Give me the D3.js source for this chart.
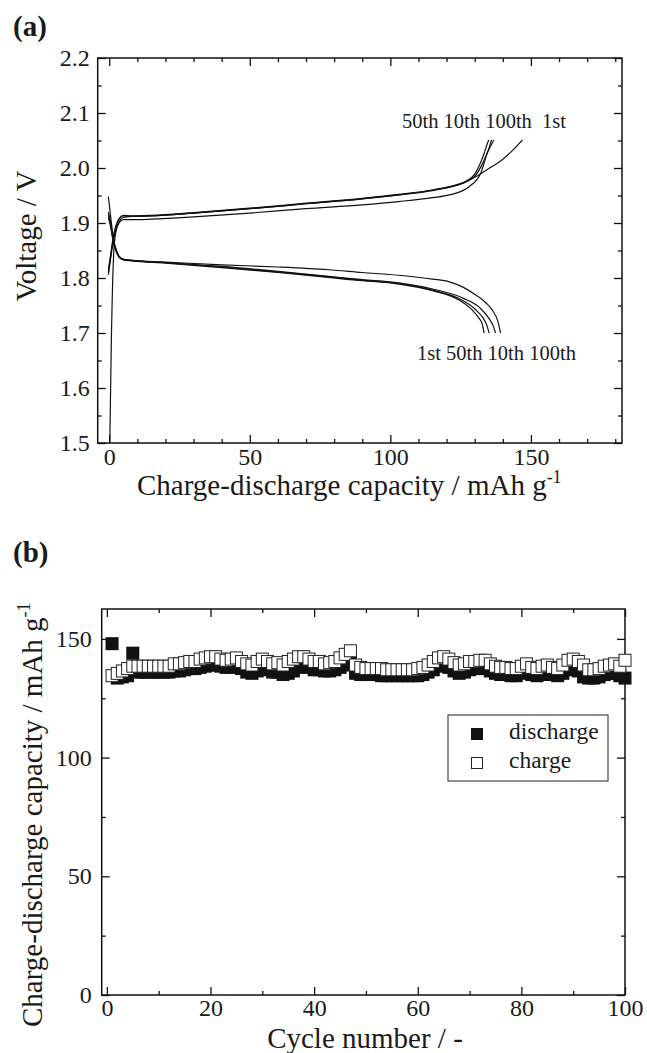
<!DOCTYPE html>
<html lang="en">
<head>
<meta charset="utf-8">
<title>Charge-discharge curves and cycling</title>
<script src="https://cdn.jsdelivr.net/npm/d3@7"></script>
<style>
  body { margin: 0; background: #fff; }
  svg text { font-family: "Liberation Serif", "Times New Roman", serif; fill: #1a1a1a; }
  .tick text { font-size: 24px; }
  .tick line { stroke: #111; stroke-width: 1.3px; }
  .ttl { font-size: 29px; }
  .lbl { font-size: 20.5px; white-space: pre; }
</style>
</head>
<body>
<script>
// ---- panel (a): [capacity / mAh g-1, voltage / V]
var charge1st = [[0.2,1.5],[0.5,1.6],[0.8,1.7],[1.1,1.77],[1.6,1.845],[2.3,1.882],[3.5,1.902],[5,1.91],[8,1.912],[15,1.913],[30,1.918],[50,1.926],[70,1.935],[90,1.944],[103,1.951],[115,1.96],[122,1.967],[127,1.976],[131,1.986],[135,1.999],[139.8,2.015],[143.5,2.032],[147,2.051]];
var charge10th = [[-0.3,1.815],[0.5,1.842],[1.5,1.876],[2.5,1.897],[3.5,1.908],[5,1.914],[8,1.913],[15,1.914],[30,1.919],[50,1.927],[70,1.936],[90,1.945],[103,1.952],[115,1.96],[121,1.966],[127,1.975],[130.4,1.987],[132.2,2.002],[134,2.022],[135.2,2.038],[136,2.051]];
var charge50th = [[-0.3,1.81],[0.5,1.84],[1.5,1.874],[2.5,1.895],[3.5,1.907],[5,1.913],[8,1.912],[15,1.913],[30,1.918],[50,1.926],[70,1.935],[90,1.944],[103,1.951],[115,1.959],[121,1.965],[127,1.976],[130,1.989],[131.6,2.004],[133.2,2.024],[134.2,2.04],[135,2.051]];
var charge100th = [[-0.3,1.806],[0.5,1.835],[1.5,1.868],[2.5,1.889],[3.5,1.9],[5,1.906],[8,1.906],[15,1.907],[30,1.911],[50,1.918],[70,1.926],[90,1.933],[103,1.939],[115,1.946],[121,1.951],[128,1.966],[132.1,1.99],[134.5,2.027],[136.8,2.051]];

var discharge1st = [[-0.3,1.948],[0.5,1.912],[1.5,1.872],[2.5,1.851],[3.5,1.84],[5,1.834],[8,1.832],[20,1.828],[40,1.82],[60,1.811],[78,1.802],[90,1.796],[103,1.789],[115,1.777],[124.4,1.76],[129.1,1.742],[131.5,1.727],[132.7,1.716],[133.3,1.7]];
var discharge10th = [[-0.3,1.92],[0.5,1.9],[1.5,1.868],[2.5,1.85],[3.5,1.839],[5,1.834],[8,1.832],[20,1.828],[40,1.821],[60,1.812],[78,1.803],[90,1.797],[103,1.791],[115,1.78],[126,1.763],[132,1.745],[135,1.727],[136.6,1.713],[137.4,1.7]];
var discharge50th = [[-0.3,1.915],[0.5,1.897],[1.5,1.866],[2.5,1.849],[3.5,1.838],[5,1.833],[8,1.831],[20,1.827],[40,1.819],[60,1.81],[78,1.801],[90,1.795],[103,1.79],[115,1.778],[125,1.761],[130,1.744],[133,1.727],[134.4,1.713],[135.1,1.7]];
var discharge100th = [[-0.3,1.91],[0.5,1.893],[1.5,1.864],[2.5,1.848],[3.5,1.838],[5,1.834],[8,1.832],[20,1.829],[40,1.824],[60,1.82],[78,1.815],[90,1.81],[103,1.805],[115,1.798],[121,1.793],[126,1.783],[130.4,1.769],[134,1.755],[136.2,1.742],[138.2,1.722],[139.2,1.7]];

var chargeLabelsTop = "50th 10th 100th\u00a0 1st";
var dischargeLabelsBottom = "1st 50th 10th 100th";

var xMajorA = [0, 50, 100, 150];
var xMinorA = [10, 20, 30, 40, 60, 70, 80, 90, 110, 120, 130, 140, 160, 170, 180];
var yMajorA = [1.5, 1.6, 1.7, 1.8, 1.9, 2.0, 2.1, 2.2];
var yMinorA = [1.55, 1.65, 1.75, 1.85, 1.95, 2.05, 2.15];

// ---- panel (b): capacity vs cycle number
var cycleNo = d3.range(1, 101);
var dischargeCap = [
  148, 133.5, 134, 134.5, 144, 136, 136, 136, 136, 136,
  136, 136, 136.5, 136.5, 137, 137.5, 137.5, 138, 138.5, 139,
  139, 138.5, 138, 138, 138.5, 137.5, 136, 135.5, 136.5, 137.5,
  137, 136, 136, 135, 135.5, 136.5, 138, 138.5, 138, 137,
  137, 136.5, 136.5, 137, 138, 139, 141, 135.5, 135, 135,
  135, 135, 134.5, 134.5, 134.5, 134.5, 134.5, 134.5, 134.5, 134.5,
  135, 136, 137, 138.5, 139, 138, 136.5, 135.5, 136, 137,
  137.5, 138, 137.5, 136.5, 135.5, 135, 135, 134.5, 134.5, 135.5,
  136, 135, 134.5, 135, 135.5, 135, 134.5, 135.5, 137, 137.5,
  136.5, 134, 133.5, 133.5, 134, 135, 135.5, 135.5, 134.5, 133.5];
var chargeCap = [
  134.5, 135.5, 136.5, 137.5, 138.5, 138.5, 138.5, 138.5, 138.5, 138.5,
  138.5, 138.5, 139.5, 139.5, 140, 140.5, 140.5, 141.5, 142, 142.5,
  142.5, 141.5, 141, 141.5, 142, 140.5, 139.5, 139, 140.5, 141.5,
  140.5, 139.5, 140, 139, 140.5, 141.5, 142.5, 142.5, 141.5, 140.5,
  140.5, 139.5, 140, 140.5, 142, 143.5, 145, 139, 138, 137.5,
  137.5, 137.5, 137.5, 137, 137, 137, 137, 137, 137, 137.5,
  138, 139, 140.5, 142, 142.5, 141.5, 140, 139, 139.5, 140.5,
  140.5, 141, 141, 139.5, 138.5, 138, 138, 137.5, 137.5, 138.5,
  139.5, 138, 137.5, 138.5, 139, 138, 137.5, 139, 141, 141.5,
  140.5, 139, 137, 137, 137.5, 138.5, 139, 139.5, 138.5, 141];

var xMajorB = [0, 20, 40, 60, 80, 100];
var xMinorB = [10, 30, 50, 70, 90];
var yMajorB = [0, 50, 100, 150];
var yMinorB = [25, 75, 125];

var W = 647, H = 1053;
var svg = d3.select("body").append("svg").attr("width", W).attr("height", H);

// scales
var xA = d3.scaleLinear().domain([-4.1, 182.4]).range([97.7, 622]);
var yA = d3.scaleLinear().domain([1.5, 2.2]).range([443, 58]);
var xB = d3.scaleLinear().domain([-1, 100]).range([101.7, 625]);
var yB = d3.scaleLinear().domain([0, 162.6]).range([995, 609]);

function axes(x, y, xMaj, xMin, yMaj, yMin, xFmt, yFmt, xPad, yPad) {
  var g = svg.append("g");
  var L = x.range()[0], R = x.range()[1], B = y.range()[0], T = y.range()[1];

  g.append("g").attr("transform", "translate(0," + B + ")")
    .call(d3.axisBottom(x).tickValues(xMaj).tickSizeInner(-8).tickSizeOuter(0).tickPadding(xPad).tickFormat(xFmt));
  g.append("g").attr("transform", "translate(0," + B + ")")
    .call(d3.axisBottom(x).tickValues(xMin).tickSizeInner(-4).tickSizeOuter(0).tickFormat(""));
  g.append("g").attr("transform", "translate(0," + T + ")")
    .call(d3.axisTop(x).tickValues(xMaj).tickSizeInner(-8).tickSizeOuter(0).tickFormat(""));
  g.append("g").attr("transform", "translate(0," + T + ")")
    .call(d3.axisTop(x).tickValues(xMin).tickSizeInner(-4).tickSizeOuter(0).tickFormat(""));

  g.append("g").attr("transform", "translate(" + L + ",0)")
    .call(d3.axisLeft(y).tickValues(yMaj).tickSizeInner(-8).tickSizeOuter(0).tickPadding(yPad).tickFormat(yFmt));
  g.append("g").attr("transform", "translate(" + L + ",0)")
    .call(d3.axisLeft(y).tickValues(yMin).tickSizeInner(-4).tickSizeOuter(0).tickFormat(""));
  g.append("g").attr("transform", "translate(" + R + ",0)")
    .call(d3.axisRight(y).tickValues(yMaj).tickSizeInner(-8).tickSizeOuter(0).tickFormat(""));
  g.append("g").attr("transform", "translate(" + R + ",0)")
    .call(d3.axisRight(y).tickValues(yMin).tickSizeInner(-4).tickSizeOuter(0).tickFormat(""));

  g.selectAll(".domain").remove();
  g.selectAll("g").attr("font-family", null).attr("font-size", null);

  g.append("rect")
    .attr("x", L).attr("y", T)
    .attr("width", R - L).attr("height", B - T)
    .attr("fill", "none").attr("stroke", "#111").attr("stroke-width", 1.5);
  return g;
}

// ---------- panel (a)
axes(xA, yA, xMajorA, xMinorA, yMajorA, yMinorA, d3.format("d"), d3.format(".1f"), 5, 8);

svg.append("clipPath").attr("id", "clipA")
  .append("rect").attr("x", 97.7).attr("y", 58).attr("width", 622 - 97.7).attr("height", 443 - 58);

var line = d3.line()
  .x(function(d) { return xA(d[0]); })
  .y(function(d) { return yA(d[1]); })
  .curve(d3.curveMonotoneX);

var curves = [charge1st, charge10th, charge50th, charge100th,
              discharge1st, discharge10th, discharge50th, discharge100th];

svg.append("g").attr("clip-path", "url(#clipA)")
  .selectAll("path")
  .data(curves)
  .enter()
  .append("path")
    .attr("d", line)
    .attr("fill", "none")
    .attr("stroke", "#111")
    .attr("stroke-width", 1.2);

svg.append("text").attr("class", "lbl").attr("x", 402).attr("y", 128).text(chargeLabelsTop);
svg.append("text").attr("class", "lbl").attr("x", 417).attr("y", 360).text(dischargeLabelsBottom);

svg.append("text").attr("x", 13).attr("y", 36)
  .style("font-size", "29px").style("font-weight", "bold").text("(a)");

svg.append("text").attr("class", "ttl")
  .attr("transform", "translate(36,236) rotate(-90)")
  .attr("text-anchor", "middle")
  .text("Voltage / V");

var xtA = svg.append("text").attr("class", "ttl").attr("x", 137).attr("y", 495)
  .text("Charge-discharge capacity / mAh g");
xtA.append("tspan").attr("dy", -12).style("font-size", "18px").text("-1");

// ---------- panel (b)
axes(xB, yB, xMajorB, xMinorB, yMajorB, yMinorB, d3.format("d"), d3.format("d"), 4, 10);

var sq = 13;
svg.append("g").selectAll("rect")
  .data(dischargeCap)
  .enter()
  .append("rect")
    .attr("x", function(d, i) { return xB(cycleNo[i]) - sq / 2; })
    .attr("y", function(d) { return yB(d) - sq / 2; })
    .attr("width", sq).attr("height", sq)
    .attr("fill", "#111");

svg.append("g").selectAll("rect")
  .data(chargeCap)
  .enter()
  .append("rect")
    .attr("x", function(d, i) { return xB(cycleNo[i]) - sq / 2 + 0.5; })
    .attr("y", function(d) { return yB(d) - sq / 2 + 0.5; })
    .attr("width", sq - 1).attr("height", sq - 1)
    .attr("fill", "#fff")
    .attr("stroke", "#222")
    .attr("stroke-width", 1);

// legend
var leg = svg.append("g");
leg.append("rect").attr("x", 448).attr("y", 715).attr("width", 160).attr("height", 66)
  .attr("fill", "#fff").attr("stroke", "#222").attr("stroke-width", 1);
leg.append("rect").attr("x", 471).attr("y", 728).attr("width", 12).attr("height", 12).attr("fill", "#111");
leg.append("rect").attr("x", 471.5).attr("y", 757.5).attr("width", 11).attr("height", 11)
  .attr("fill", "#fff").attr("stroke", "#222");
leg.append("text").attr("x", 509).attr("y", 739).style("font-size", "23.5px").text("discharge");
leg.append("text").attr("x", 509).attr("y", 768).style("font-size", "23.5px").text("charge");

svg.append("text").attr("x", 13).attr("y", 562)
  .style("font-size", "29px").style("font-weight", "bold").text("(b)");

var ytB = svg.append("text").attr("class", "ttl")
  .attr("transform", "translate(42,1027) rotate(-90)")
  .text("Charge-discharge capacity / mAh g");
ytB.append("tspan").attr("dy", -12).style("font-size", "18px").text("-1");

svg.append("text").attr("class", "ttl")
  .attr("x", 365).attr("y", 1048)
  .attr("text-anchor", "middle")
  .text("Cycle number / -");
</script>
</body>
</html>
